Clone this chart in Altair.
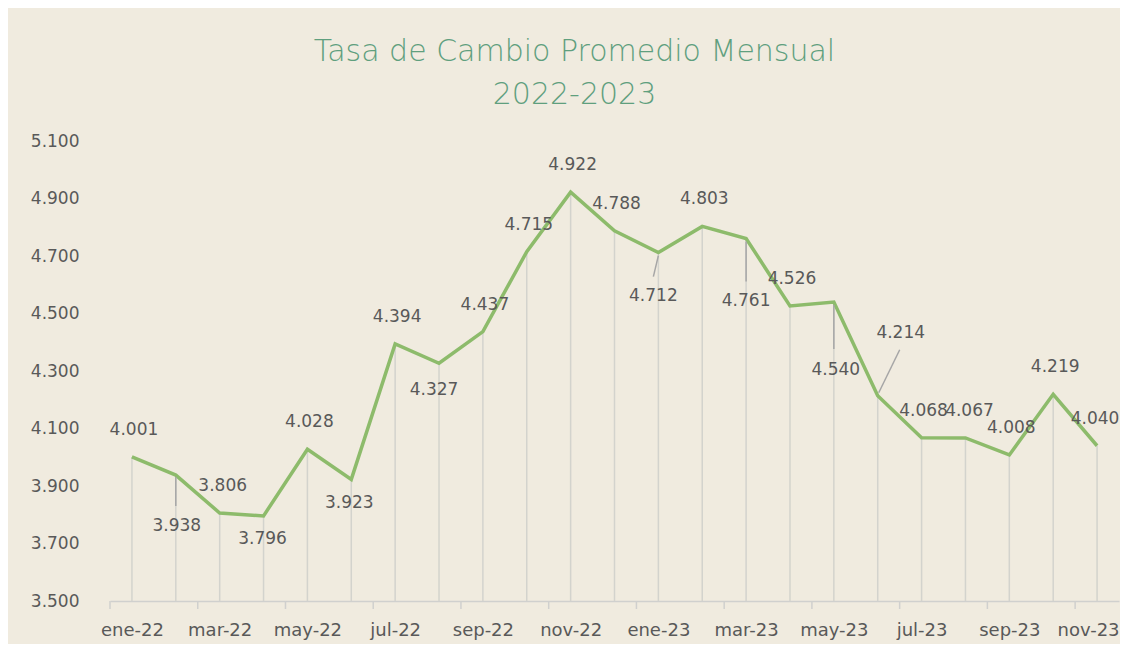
import altair as alt
import pandas as pd

# ---- data ----
meses = ["ene-22", "feb-22", "mar-22", "abr-22", "may-22", "jun-22", "jul-22", "ago-22",
         "sep-22", "oct-22", "nov-22", "dic-22", "ene-23", "feb-23", "mar-23", "abr-23",
         "may-23", "jun-23", "jul-23", "ago-23", "sep-23", "oct-23", "nov-23"]
tasa = [4001, 3938, 3806, 3796, 4028, 3923, 4394, 4327, 4437, 4715, 4922, 4788,
        4712, 4803, 4761, 4526, 4540, 4214, 4068, 4067, 4008, 4219, 4040]
y_ticks = [3500, 3700, 3900, 4100, 4300, 4500, 4700, 4900, 5100]
titulo = ["Tasa de Cambio Promedio Mensual", "2022-2023"]

# ---- styling (label placement in pixels, like manual Excel label positions) ----
label_offset = {
    "feb-22": (1, 51), "mar-22": (3, -27), "abr-22": (-1, 23), "jun-22": (-2, 24),
    "ago-22": (-5, 27), "ene-23": (-5, 43), "mar-23": (0, 63), "may-23": (2, 68),
    "jun-23": (23, -63), "ago-23": (4, -27), "nov-23": (-2, -27),
}
default_offset = (2, -27)
leaders = {  # (x1, y1, x2, y2) pixel offsets from the point
    "feb-22": (0, 2, 0, 31), "ene-23": (0, 3, -5, 24), "mar-23": (0, 3, 0, 43),
    "may-23": (0, 3, 0, 47), "jun-23": (1, -3, 22, -46),
}

BG = "#F0EBDF"
GREEN = "#8DBB6B"
TITLE_GREEN = "#5F9F7E"
TXT = "#595959"
GRID = "#D3D3CD"
FONT = "DejaVu Sans"
W, H = 1009, 460

df = pd.DataFrame({"mes": meses, "tasa": tasa, "idx": list(range(len(meses)))})

x_scale = alt.Scale(domain=[-0.5, len(meses) - 0.5], nice=False, zero=False)
y_scale = alt.Scale(domain=[y_ticks[0], y_ticks[-1]], nice=False, zero=False)

label_arr = "[" + ",".join("'" + m + "'" for m in meses) + "]"
last_idx = len(meses) - 1

x_axis = alt.Axis(
    values=list(range(0, len(meses), 2)),
    labelExpr=label_arr + "[datum.value]",
    labelOffset={"expr": f"datum.value == {last_idx} ? -9 : 0"},
    title=None, ticks=False, grid=False,
    domainColor="#D0D0CE", domainWidth=1.5,
    labelFont=FONT, labelFontSize=18, labelColor=TXT, labelPadding=20,
)
y_axis = alt.Axis(
    values=y_ticks,
    labelExpr="replace(format(datum.value, ','), ',', '.')",
    title=None, ticks=False, grid=False, domain=False,
    labelFont=FONT, labelFontSize=17, labelColor=TXT, labelPadding=31,
)

base = alt.Chart(df)

drops = base.mark_rule(color=GRID, strokeWidth=1.5).encode(
    x=alt.X("idx:Q", scale=x_scale, axis=x_axis),
    y=alt.Y("tasa:Q", scale=y_scale, axis=y_axis),
    y2=alt.datum(y_ticks[0]),
)

ticks = base.transform_filter("datum.idx % 2 == 0").transform_calculate(
    tx="datum.idx - 0.5"
).mark_rule(color="#D0D0CE", strokeWidth=1.5).encode(
    x=alt.X("tx:Q", scale=x_scale),
    y=alt.value(H),
    y2=alt.value(H + 8),
)

line = base.mark_line(color=GREEN, strokeWidth=3.5, strokeJoin="miter").encode(
    x=alt.X("idx:Q", scale=x_scale),
    y=alt.Y("tasa:Q", scale=y_scale),
)

layers = [drops, ticks, line]

for mes, (x1, y1, x2, y2) in leaders.items():
    layers.append(
        base.transform_filter(alt.datum.mes == mes).mark_rule(
            color="#A6A6A6", strokeWidth=1.5,
            xOffset=x1, yOffset=y1, x2Offset=x2, y2Offset=y2,
        ).encode(
            x=alt.X("idx:Q", scale=x_scale), x2="idx:Q",
            y=alt.Y("tasa:Q", scale=y_scale), y2="tasa:Q",
        )
    )

groups = {}
for m in meses:
    groups.setdefault(label_offset.get(m, default_offset), []).append(m)

for (dx, dy), ms in groups.items():
    layers.append(
        base.transform_filter(alt.FieldOneOfPredicate(field="mes", oneOf=ms))
        .transform_calculate(lbl="replace(format(datum.tasa, ','), ',', '.')")
        .mark_text(font=FONT, fontSize=17, color=TXT, dx=dx, dy=dy,
                   baseline="middle", align="center")
        .encode(
            x=alt.X("idx:Q", scale=x_scale),
            y=alt.Y("tasa:Q", scale=y_scale),
            text="lbl:N",
        )
    )

chart = alt.layer(*layers).properties(
    width=W, height=H,
    title=alt.TitleParams(
        text=titulo, anchor="middle", frame="group", dx=-40, offset=22,
        font=FONT, fontSize=30, fontWeight=300, color=TITLE_GREEN, lineHeight=43,
    ),
    background=BG,
    padding={"left": 102, "top": 133, "right": 1, "bottom": 43},
    autosize=alt.AutoSizeParams(type="none"),
).configure_view(stroke=None)

chart.save("out.html", embed_options={"renderer": "svg", "actions": False})
